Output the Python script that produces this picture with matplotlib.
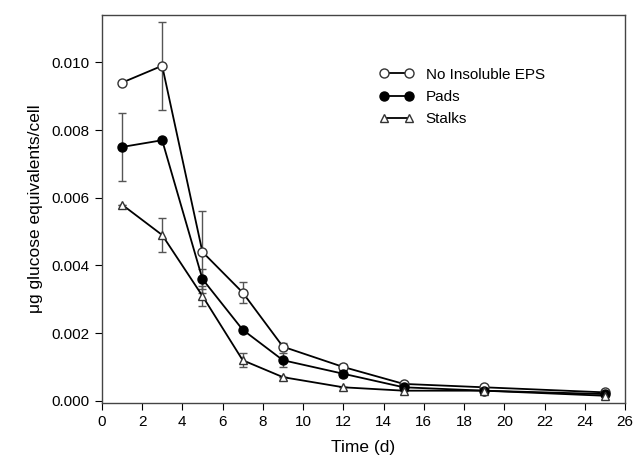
import matplotlib
matplotlib.use("Agg")
import matplotlib.pyplot as plt
from matplotlib.lines import Line2D

plt.rcParams['font.family'] = ['Liberation Sans', 'DejaVu Sans']

days = [1, 3, 5, 7, 9, 12, 15, 19, 25]
no_eps = [0.0094, 0.0099, 0.0044, 0.0032, 0.0016, 0.0010, 0.0005, 0.0004, 0.00025]
no_eps_err = [0.0, 0.0013, 0.0012, 0.0003, 0.0001, 0.0001, 0.0, 0.0, 0.0]
pads = [0.0075, 0.0077, 0.0036, 0.0021, 0.0012, 0.0008, 0.0004, 0.0003, 0.0002]
pads_err = [0.0010, 0.0, 0.0003, 0.0, 0.0002, 0.0001, 0.0, 0.0, 0.0]
stalks = [0.0058, 0.0049, 0.0031, 0.0012, 0.0007, 0.0004, 0.0003, 0.0003, 0.00015]
stalks_err = [0.0, 0.0005, 0.0003, 0.0002, 0.0, 0.0, 0.0, 0.0, 0.0]
xticks = list(range(0, 27, 2))
yticks = [0.000, 0.002, 0.004, 0.006, 0.008, 0.010]

fig = plt.figure(figsize=(6.36, 4.69), dpi=100)
ax = fig.add_axes([0.160, 0.141, 0.823, 0.827])

ekw = dict(ecolor='#555555', elinewidth=1.0, capsize=3, capthick=1.0)
styles = [
    dict(marker='o', ms=6.5, mfc='white', mec='#333333', mew=1.0),
    dict(marker='o', ms=6.5, mfc='black', mec='black', mew=1.0),
    dict(marker='^', ms=6, mfc='white', mec='#333333', mew=1.0),
]
labels = ['No Insoluble EPS', 'Pads', 'Stalks']
for y, e, st in zip([no_eps, pads, stalks], [no_eps_err, pads_err, stalks_err], styles):
    ax.errorbar(days, y, yerr=e, color='black', lw=1.3, **st, **ekw)

ax.set_xlim(0, 26)
ax.set_ylim(-0.00006, 0.0114)
ax.set_xticks(xticks)
ax.set_yticks(yticks)
ax.set_yticklabels([f"{v:.3f}" for v in yticks])
ax.tick_params(direction='out', length=5, labelsize=11, top=False, right=False)
for s in ax.spines.values():
    s.set_color('#444444')
    s.set_linewidth(1.0)

ax.set_xlabel('Time (d)', fontsize=12.5, labelpad=8)
ax.set_ylabel('μg glucose equivalents/cell', fontsize=12.5, labelpad=6)

handles = [Line2D([], [], color='black', lw=1.3, **st) for st in styles]
ax.legend(handles, labels, loc='upper left', bbox_to_anchor=(0.505, 0.90), frameon=False,
          fontsize=11, numpoints=2, handlelength=2.2, handletextpad=0.8, labelspacing=0.55)

fig.savefig('out.png', dpi=100)
